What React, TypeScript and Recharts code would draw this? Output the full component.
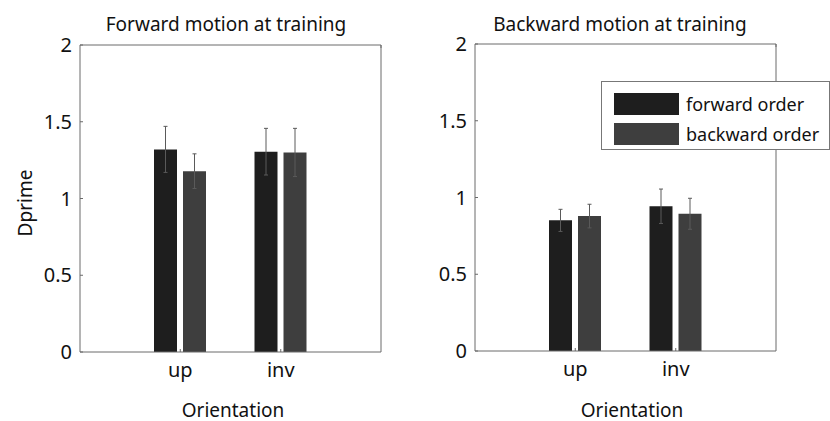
import { Bar, BarChart, ErrorBar, Legend, XAxis, YAxis } from "recharts";

const orientations = ["up", "inv"];
const yTicks = [0, 0.5, 1, 1.5, 2];
const legendOrder = ["forward", "backward"];

// forward motion at training
const fwdTrainForward = [1.32, 1.305];
const fwdTrainForwardErr = [0.15, 0.152];
const fwdTrainBackward = [1.178, 1.3];
const fwdTrainBackwardErr = [0.113, 0.157];

// backward motion at training
const bwdTrainForward = [0.851, 0.943];
const bwdTrainForwardErr = [0.072, 0.112];
const bwdTrainBackward = [0.879, 0.894];
const bwdTrainBackwardErr = [0.077, 0.101];

const FONT = "'Noto Sans', sans-serif";
const AXIS = "#6a6a6a";
const FWD_COLOR = "#1e1e1e";
const BWD_COLOR = "#3e3e3e";

function buildRows(fwd: number[], fwdErr: number[], bwd: number[], bwdErr: number[]) {
  return orientations.map((o, i) => ({
    orientation: o,
    forward: fwd[i],
    forwardErr: fwdErr[i],
    backward: bwd[i],
    backwardErr: bwdErr[i],
  }));
}

function LegendBox(props: any) {
  const items = [...(props.payload || [])].sort(
    (a: any, b: any) => legendOrder.indexOf(a.dataKey) - legendOrder.indexOf(b.dataKey)
  );
  return (
    <div
      style={{
        background: "#fff",
        border: "1px solid #777",
        boxSizing: "border-box",
        width: 229,
        height: 69,
        padding: "7px 0 0 12px",
        fontFamily: FONT,
        fontSize: 18,
        color: "#111",
      }}
    >
      {items.map((it: any) => (
        <div key={it.value} style={{ display: "flex", alignItems: "center", height: 30 }}>
          <span style={{ width: 65, height: 22, background: it.color, marginRight: 7 }} />
          <span>{it.value}</span>
        </div>
      ))}
    </div>
  );
}

function Panel({
  rows,
  leftW,
  rightW,
  top,
  bottom,
  showLegend,
}: {
  rows: any[];
  leftW: number;
  rightW: number;
  top: number;
  bottom: number;
  showLegend: boolean;
}) {
  const tickStyle = { fontSize: 20, fill: "#111", fontFamily: FONT };
  return (
    <BarChart
      width={415}
      height={421}
      data={rows}
      margin={{ top: 0, right: 0, bottom: 0, left: 0 }}
      barSize={23}
      barGap={6}
    >
      <XAxis
        dataKey="orientation"
        height={bottom}
        padding={{ left: 50, right: 50 }}
        stroke={AXIS}
        tickSize={-3}
        tickMargin={14}
        tick={tickStyle}
      />
      <XAxis
        xAxisId="top"
        orientation="top"
        type="number"
        domain={[0, 3]}
        ticks={[1, 2]}
        height={top}
        stroke={AXIS}
        tickSize={-3}
        tickFormatter={() => ""}
      />
      <YAxis
        domain={[0, 2]}
        ticks={yTicks}
        width={leftW}
        stroke={AXIS}
        tickSize={-3}
        tickMargin={11}
        tick={tickStyle}
      />
      <YAxis
        yAxisId="right"
        orientation="right"
        domain={[0, 2]}
        ticks={yTicks}
        width={rightW}
        stroke={AXIS}
        tickSize={-3}
        tickFormatter={() => ""}
      />
      <Bar dataKey="forward" name="forward order" fill={FWD_COLOR} isAnimationActive={false}>
        <ErrorBar dataKey="forwardErr" width={2} stroke="#5a5a5a" strokeWidth={1} />
      </Bar>
      <Bar dataKey="backward" name="backward order" fill={BWD_COLOR} isAnimationActive={false}>
        <ErrorBar dataKey="backwardErr" width={2} stroke="#5a5a5a" strokeWidth={1} />
      </Bar>
      {showLegend && (
        <Legend
          layout="vertical"
          align="center"
          verticalAlign="middle"
          content={<LegendBox />}
          wrapperStyle={{ left: 186, top: 81, width: 229, height: 69 }}
        />
      )}
    </BarChart>
  );
}

const textStyle = {
  position: "absolute" as const,
  fontFamily: FONT,
  fontSize: 19,
  lineHeight: 1,
  color: "#111",
  whiteSpace: "nowrap" as const,
  transform: "translate(-50%, -50%)",
};

export default function App() {
  const leftRows = buildRows(fwdTrainForward, fwdTrainForwardErr, fwdTrainBackward, fwdTrainBackwardErr);
  const rightRows = buildRows(bwdTrainForward, bwdTrainForwardErr, bwdTrainBackward, bwdTrainBackwardErr);
  return (
    <div style={{ position: "absolute", left: 0, top: 0, width: 830, height: 421, background: "#fff" }}>
      <div style={{ position: "absolute", left: 0, top: 0 }}>
        <Panel rows={leftRows} leftW={80} rightW={34} top={45} bottom={69} showLegend={false} />
      </div>
      <div style={{ position: "absolute", left: 415, top: 0 }}>
        <Panel rows={rightRows} leftW={60} rightW={54} top={44} bottom={70} showLegend={true} />
      </div>
      <div style={{ ...textStyle, left: 226, top: 24 }}>Forward motion at training</div>
      <div style={{ ...textStyle, left: 620, top: 24 }}>Backward motion at training</div>
      <div style={{ ...textStyle, left: 233, top: 410 }}>Orientation</div>
      <div style={{ ...textStyle, left: 632, top: 410 }}>Orientation</div>
      <div style={{ ...textStyle, left: 25, top: 203, transform: "translate(-50%, -50%) rotate(-90deg)" }}>
        Dprime
      </div>
    </div>
  );
}
